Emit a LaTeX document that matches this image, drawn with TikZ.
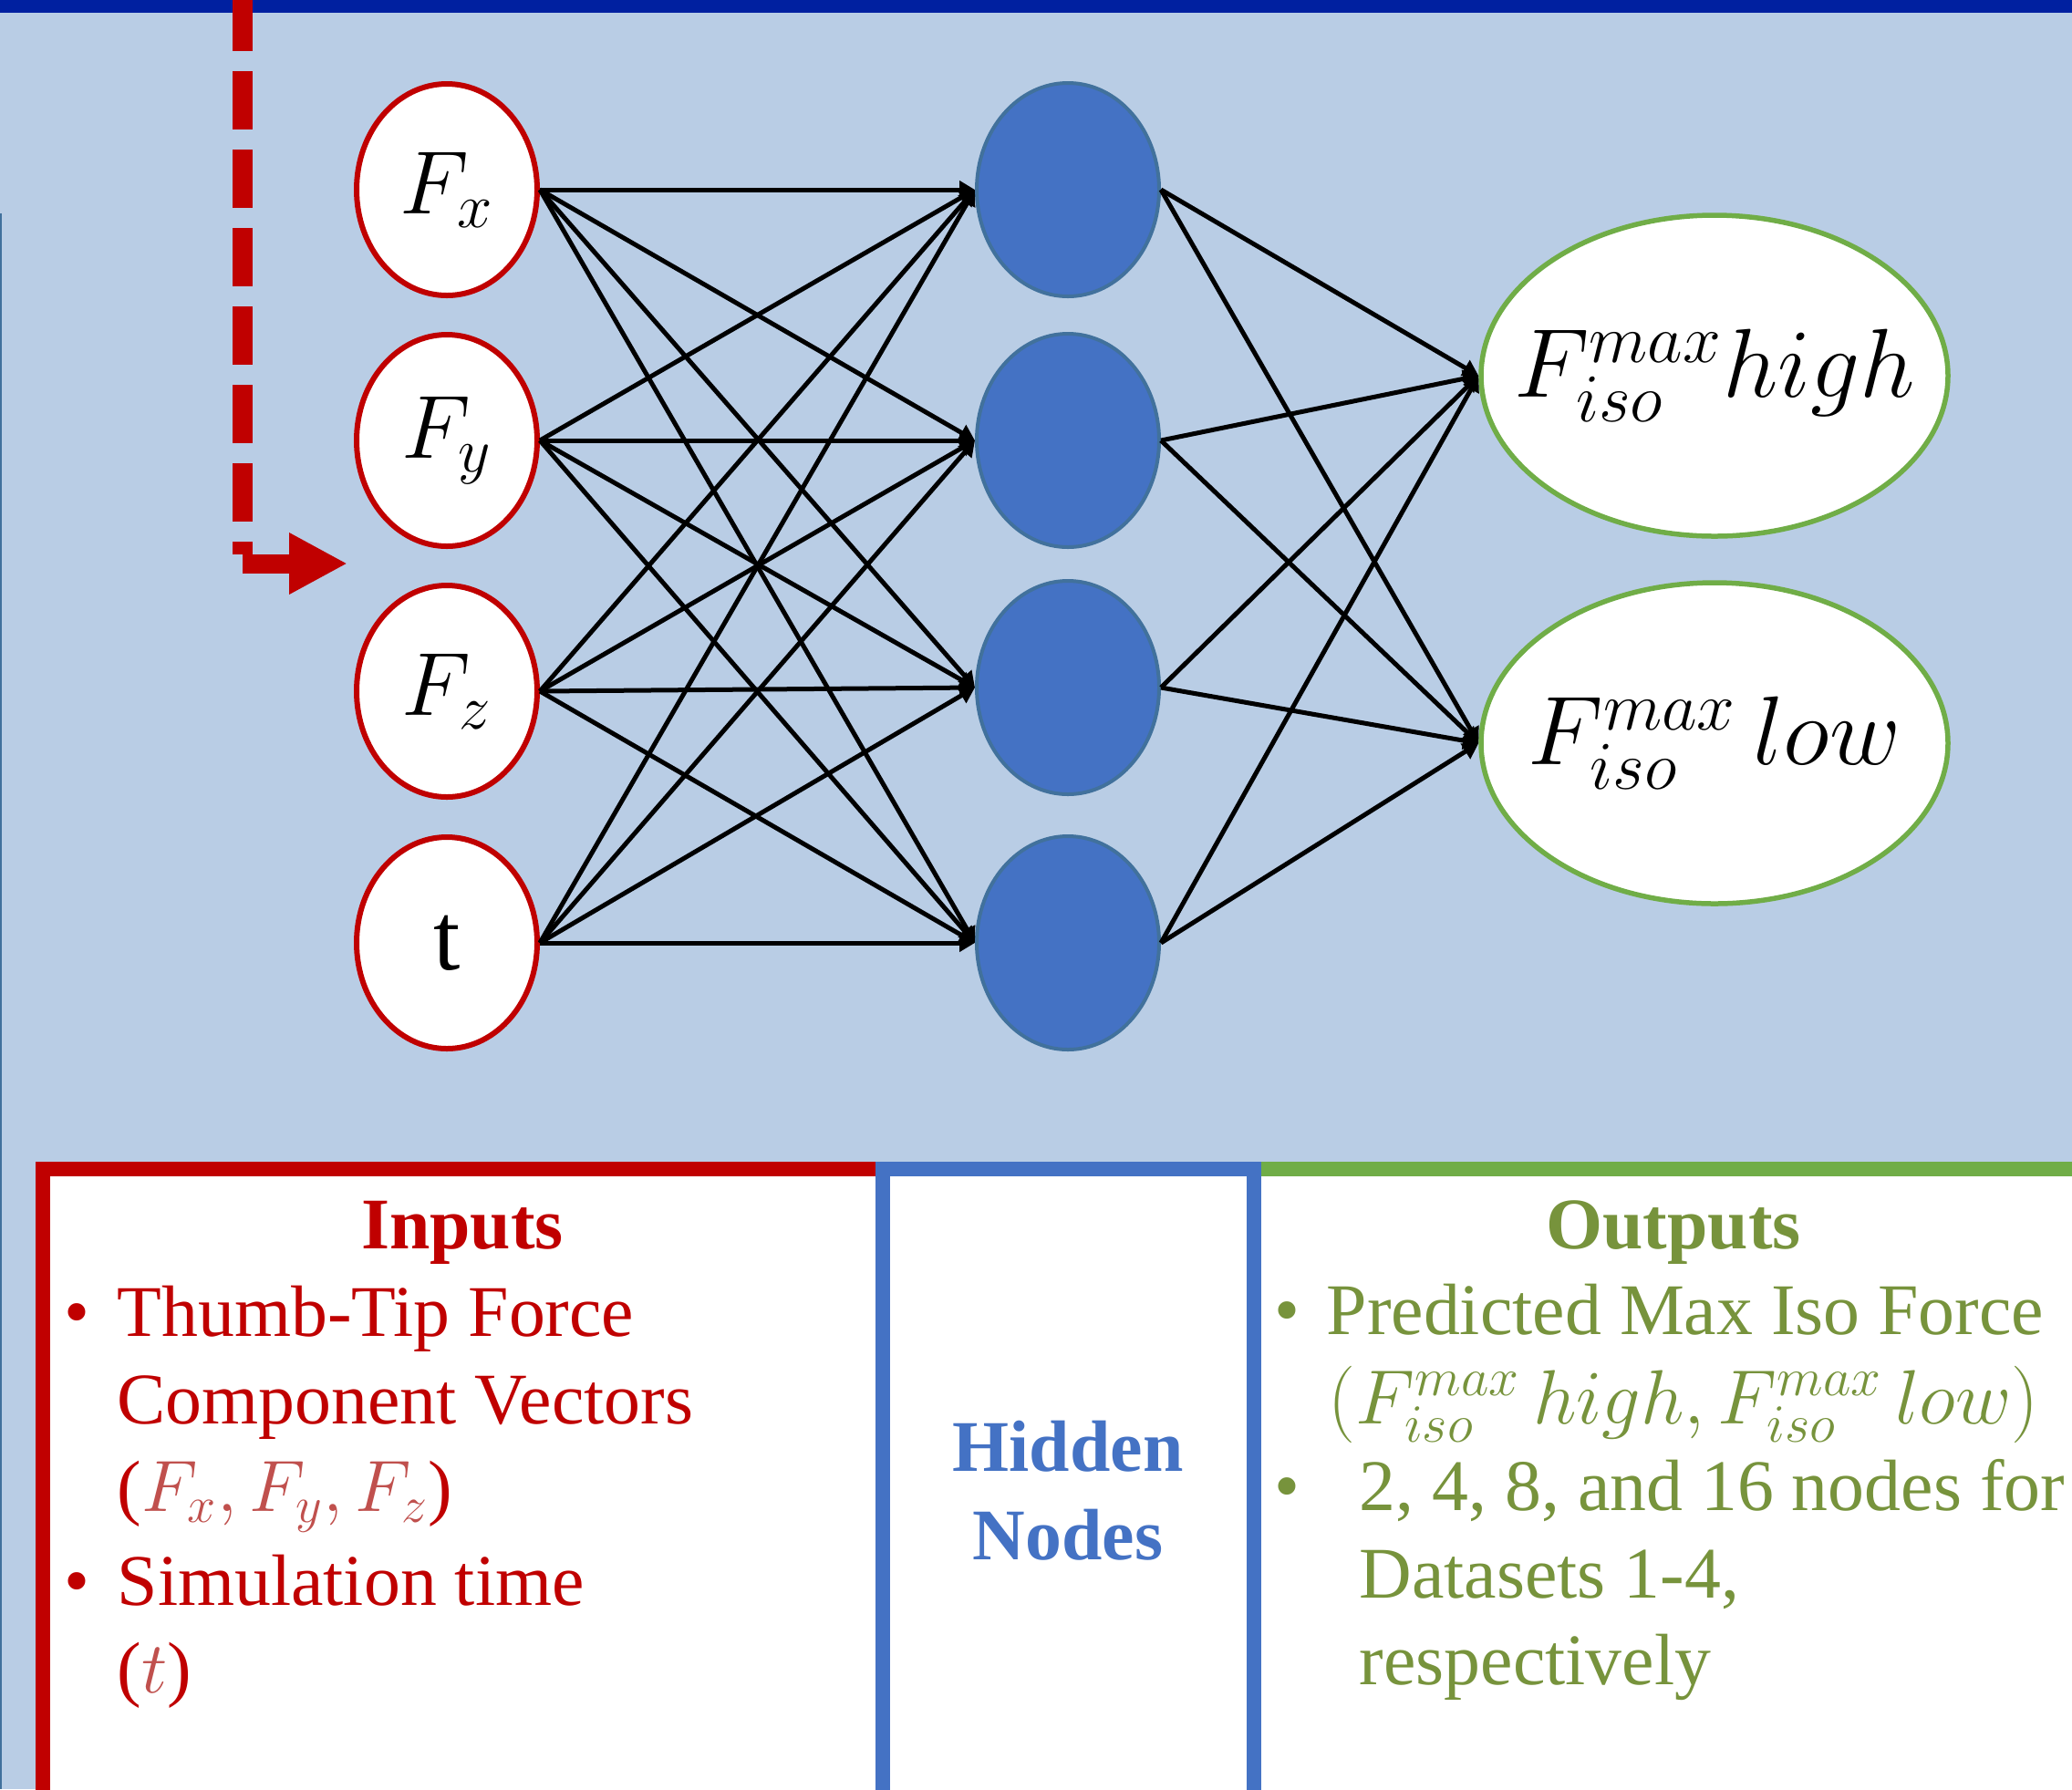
\RequirePackage{fix-cm}
\documentclass[tikz,border=0pt]{standalone}
\usepackage{fontspec}
\setmainfont{Liberation Serif}
\usetikzlibrary{arrows.meta,shapes.geometric}

\definecolor{bgblue}{HTML}{B9CDE5}
\definecolor{barblue}{HTML}{0020A0}
\definecolor{inred}{HTML}{C00000}
\definecolor{mathred}{HTML}{C0504D}
\definecolor{hidfill}{HTML}{4472C4}
\definecolor{hidline}{HTML}{41719C}
\definecolor{outgreen}{HTML}{70AD47}
\definecolor{txtgreen}{HTML}{77933C}

\tikzset{
  innode/.style={ellipse,draw=inred,line width=0.06cm,fill=white,minimum width=1.98cm,minimum height=2.32cm,inner sep=0pt,font=\fontsize{28}{32}\selectfont},
  hidnode/.style={ellipse,draw=hidline,line width=0.04cm,fill=hidfill,minimum width=2.0cm,minimum height=2.34cm,inner sep=0pt},
  outnode/.style={ellipse,draw=outgreen,line width=0.055cm,fill=white,minimum width=5.12cm,minimum height=3.52cm,inner sep=0pt,font=\fontsize{30.5}{35}\selectfont},
  link/.style={line width=0.05cm,-{Triangle[length=0.17cm,width=0.19cm]}},
  boxtxt/.style={font=\fontsize{22.7}{27.3}\selectfont,anchor=base west,inner sep=0pt},
  boxhead/.style={font=\fontsize{22.7}{27.3}\selectfont\bfseries,anchor=base,inner sep=0pt}
}

\begin{document}
\begin{tikzpicture}
\useasboundingbox (0,0) rectangle (22.72,-19.62);
\fill[bgblue] (0,0) rectangle (22.72,-19.62);
\fill[barblue] (0,0) rectangle (22.72,-0.14);
\draw[hidline,line width=0.02cm] (0.01,-2.34) -- (0.01,-19.62);

% feedback arrow
\coordinate (fbtop) at (2.66,0.3);
\coordinate (fbcorner) at (2.66,-6.08);
\coordinate (fbstart) at (2.66,-6.18);
\coordinate (fbtip) at (3.81,-6.18);
\draw[inred,line width=0.22cm,dash pattern=on 0.64cm off 0.22cm,dash phase=0.64cm] (fbtop) -- (fbcorner);
\draw[inred,line width=0.21cm,-{Triangle[length=0.64cm,width=0.63cm]}] (fbstart) -- (fbtip);

% network
\node[innode] (fx) at (4.90,-2.08) {\makebox[0pt]{$F_x$}};
\node[innode] (fy) at (4.90,-4.83) {\makebox[0pt]{$F_y$}};
\node[innode] (fz) at (4.90,-7.58) {\makebox[0pt]{$F_z$}};
\node[innode,font=\fontsize{30}{34}\selectfont] (tt) at (4.90,-10.34) {t};
\node[hidnode] (h1) at (11.71,-2.08) {};
\node[hidnode] (h2) at (11.71,-4.83) {};
\node[hidnode] (h3) at (11.71,-7.54) {};
\node[hidnode] (h4) at (11.71,-10.34) {};
\node[outnode] (hi) at (18.80,-4.12) {\makebox[0pt]{$F^{max}_{iso}high$}};
\node[outnode] (lo) at (18.80,-8.15) {\makebox[0pt]{$F^{max}_{iso}\,low$}};
\foreach \i in {fx,fy,fz,tt}
  \foreach \h in {h1,h2,h3,h4}
    \draw[link] (\i.east) -- (\h.west);
\foreach \h in {h1,h2,h3,h4}
  \foreach \o in {hi,lo}
    \draw[link] (\h.east) -- (\o.west);

% legend boxes
\draw[inred,line width=0.16cm,fill=white] (0.47,-12.82) rectangle (9.68,-20.2);
\draw[outgreen,line width=0.16cm,fill=white] (13.75,-12.82) rectangle (23.2,-20.2);
\draw[hidfill,line width=0.16cm,fill=white] (9.68,-12.82) rectangle (13.75,-20.2);

\node[boxhead,text=inred] (inhead) at (5.07,-13.69) {Inputs};
\node[boxtxt,text=inred] (inbulA) at (0.70,-14.65) {\textbullet};
\node[boxtxt,text=inred] (inA) at (1.28,-14.65) {Thumb-Tip Force};
\node[boxtxt,text=inred] (inB) at (1.28,-15.61) {Component Vectors};
\node[boxtxt,text=inred] (inC) at (1.28,-16.57) {(\textcolor{mathred}{$F_x, F_y, F_z$})};
\node[boxtxt,text=inred] (inbulB) at (0.70,-17.60) {\textbullet};
\node[boxtxt,text=inred] (inD) at (1.28,-17.60) {Simulation time};
\node[boxtxt,text=inred] (inE) at (1.28,-18.56) {(\textcolor{mathred}{$t$})};

\node[boxhead,text=hidfill] (hidA) at (11.71,-16.13) {Hidden};
\node[boxhead,text=hidfill] (hidB) at (11.71,-17.10) {Nodes};

\node[boxhead,text=txtgreen] (outhead) at (18.35,-13.69) {Outputs};
\node[boxtxt,text=txtgreen] (outbulA) at (13.97,-14.63) {\textbullet};
\node[boxtxt,text=txtgreen] (outA) at (14.54,-14.63) {Predicted Max Iso Force};
\node[boxtxt,text=txtgreen,font=\fontsize{24}{28}\selectfont] (outB) at (14.56,-15.61) {$(F^{max}_{iso}\,high, F^{max}_{iso}\,low)$};
\node[boxtxt,text=txtgreen] (outbulB) at (13.97,-16.56) {\textbullet};
\node[boxtxt,text=txtgreen] (outC) at (14.90,-16.56) {2, 4, 8, and 16 nodes for};
\node[boxtxt,text=txtgreen] (outD) at (14.90,-17.52) {Datasets 1-4,};
\node[boxtxt,text=txtgreen] (outE) at (14.90,-18.47) {respectively};
\end{tikzpicture}
\end{document}
